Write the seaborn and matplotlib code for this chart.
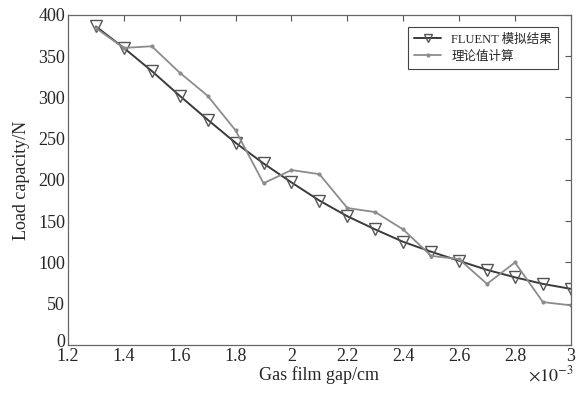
import matplotlib
matplotlib.use("Agg")
import matplotlib.pyplot as plt
import matplotlib.transforms as mtransforms
import seaborn as sns
import pandas as pd
from matplotlib.ticker import FuncFormatter

# gap in cm (x 1e-3)
gap = [1.3, 1.4, 1.5, 1.6, 1.7, 1.8, 1.9, 2.0, 2.1, 2.2, 2.3, 2.4, 2.5, 2.6, 2.7, 2.8, 2.9, 3.0]
fluent = [386, 360, 332, 302, 273, 245, 220, 197, 175, 156, 140, 125, 113, 102, 91, 82, 74, 68]
theory = [384, 360, 362, 330, 302, 260, 196, 212, 207, 166, 161, 140, 108, 104, 74, 100, 52, 48]
xticks = [1.2, 1.4, 1.6, 1.8, 2.0, 2.2, 2.4, 2.6, 2.8, 3.0]

labels = ["FLUENT 模拟结果", "理论值计算"]

sns.set_style("white")
plt.rcParams['font.family'] = ['Liberation Serif', 'Noto Sans CJK SC']
plt.rcParams['mathtext.fontset'] = 'stix'

df = pd.DataFrame({
    "gap": [g * 1e-3 for g in gap] * 2,
    "load": fluent + theory,
    "src": [labels[0]] * len(gap) + [labels[1]] * len(gap),
})

fig = plt.figure(figsize=(5.76, 4.03), dpi=100)
ax = fig.add_axes([0.118, 0.144, 0.873, 0.819])

sns.lineplot(data=df[df.src == labels[0]], x="gap", y="load", ax=ax, color="#3a3a3a",
             marker="v", markersize=8, markerfacecolor="none", markeredgecolor="#555555",
             markeredgewidth=1.0, linewidth=1.4, label=labels[0])
sns.lineplot(data=df[df.src == labels[1]], x="gap", y="load", ax=ax, color="#8c8c8c",
             marker="o", markersize=3, markeredgewidth=0, linewidth=1.3, label=labels[1])

ax.set_xlim(1.2e-3, 3.0e-3)
ax.set_ylim(0, 400)
ax.set_xticks([v * 1e-3 for v in xticks])
ax.set_yticks(range(0, 401, 50))
ax.xaxis.set_major_formatter(FuncFormatter(lambda v, p: f"{v * 1e3:g}"))
fig.text(0.997, 0.045, r"$\times10^{-3}$", ha="right", va="bottom", fontsize=13)

ax.tick_params(direction="in", top=True, right=True, length=4, width=0.8,
               color="#555555", labelsize=13, pad=2)
for s in ax.spines.values():
    s.set_color("#666666")
    s.set_linewidth(0.9)

# the zero label sits a little above the corner, as in the original
fig.canvas.draw()
zero = ax.get_yticklabels()[0]
zero.set_verticalalignment("bottom")
zero.set_transform(zero.get_transform() +
                   mtransforms.ScaledTranslation(0, -4 / 72, fig.dpi_scale_trans))

ax.set_xlabel("Gas film gap/cm", fontsize=13, labelpad=1)
ax.set_ylabel("Load capacity/N", fontsize=13, labelpad=6)

leg = ax.legend(loc="upper right", fontsize=9, frameon=True, fancybox=False,
                edgecolor="#444444", framealpha=1, handlelength=2.2,
                borderpad=0.5, labelspacing=0.4, borderaxespad=1.0)
leg.get_frame().set_linewidth(0.8)
leg.legend_handles[0].set_markersize(6)
leg.legend_handles[1].set_markersize(3)

fig.savefig("out.png", dpi=100)
